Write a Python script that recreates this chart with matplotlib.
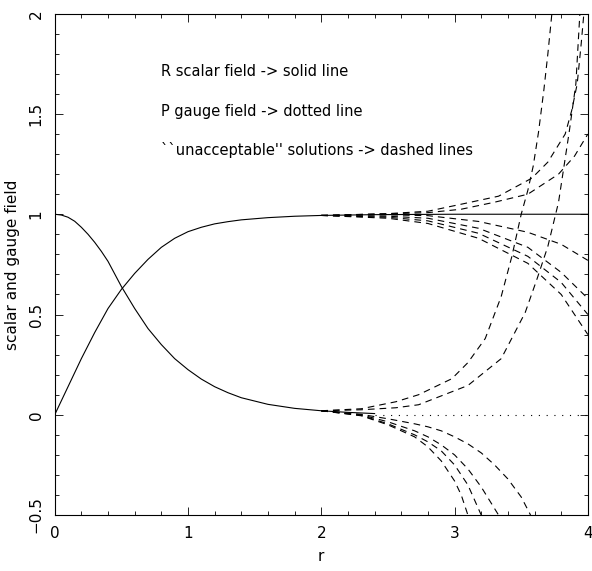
# scalar field R and gauge field P against r, with the diverging "unacceptable" shots
import numpy as np
import matplotlib
matplotlib.use('Agg')
from matplotlib import pyplot as plt
from matplotlib.ticker import MultipleLocator, FuncFormatter

# solid profiles
r_R = [0, 0.1, 0.2, 0.3, 0.4, 0.5, 0.6, 0.7, 0.8, 0.9, 1.0, 1.1, 1.2, 1.3, 1.4, 1.6, 1.8, 2.0, 2.4, 3.0, 4.0]
R = [0, 0.14, 0.28, 0.41, 0.53, 0.625, 0.705, 0.775, 0.835, 0.88, 0.913, 0.935, 0.952, 0.963, 0.972, 0.983, 0.99, 0.994, 0.998, 1.0, 1.0]

r_P = [0, 0.05, 0.1, 0.15, 0.2, 0.25, 0.3, 0.35, 0.4, 0.5, 0.6, 0.7, 0.8, 0.9, 1.0, 1.1, 1.2, 1.3, 1.4, 1.6, 1.8, 2.0, 2.2, 2.4]
P = [1.0, 0.996, 0.985, 0.965, 0.935, 0.9, 0.86, 0.815, 0.765, 0.64, 0.53, 0.43, 0.35, 0.28, 0.225, 0.178, 0.14, 0.11, 0.085, 0.052, 0.032, 0.02, 0.012, 0.006]

# dotted continuation of P
r_Pdot = [2.4, 4.0]
P_dot = [0, 0]

# dashed branches leaving R ~ 1
r_A = [2.0, 2.5, 2.8, 3.05, 3.33, 3.58, 3.7, 3.83, 3.88, 3.92, 3.95, 3.97]
R_A = [0.994, 1.003, 1.015, 1.05, 1.09, 1.18, 1.26, 1.40, 1.52, 1.65, 1.85, 2.0]
r_B = [2.0, 2.5, 2.8, 3.05, 3.3, 3.55, 3.78, 3.9, 4.0]
R_B = [0.994, 1.002, 1.008, 1.025, 1.06, 1.10, 1.20, 1.29, 1.40]
r_L = [2.0, 2.5, 2.8, 3.18, 3.55, 3.8, 4.0]
R_L1 = [0.994, 0.997, 0.993, 0.964, 0.91, 0.85, 0.77]
R_L2 = [0.994, 0.99, 0.98, 0.93, 0.835, 0.71, 0.58]
R_L3 = [0.994, 0.985, 0.967, 0.905, 0.79, 0.66, 0.50]
R_L4 = [0.994, 0.98, 0.954, 0.88, 0.755, 0.60, 0.40]

# dashed branches leaving P ~ 0
r_U1 = [2.0, 2.3, 2.56, 2.73, 2.98, 3.1, 3.23, 3.35, 3.43, 3.5, 3.55, 3.59, 3.63, 3.67, 3.7, 3.73]
P_U1 = [0.02, 0.03, 0.065, 0.1, 0.18, 0.26, 0.38, 0.59, 0.79, 1.0, 1.12, 1.24, 1.41, 1.62, 1.8, 2.0]
r_U2 = [2.0, 2.3, 2.56, 2.73, 3.1, 3.35, 3.53, 3.62, 3.7, 3.78, 3.86, 3.91, 3.94]
P_U2 = [0.02, 0.025, 0.035, 0.05, 0.146, 0.28, 0.51, 0.68, 0.84, 1.06, 1.41, 1.65, 2.0]
r_D1 = [2.0, 2.3, 2.5, 2.7, 2.8, 2.9, 3.0, 3.05, 3.1]
P_D1 = [0.02, -0.005, -0.05, -0.11, -0.16, -0.23, -0.33, -0.40, -0.5]
r_D2 = [2.0, 2.3, 2.5, 2.7, 2.8, 2.9, 3.0, 3.1, 3.2]
P_D2 = [0.02, -0.003, -0.045, -0.1, -0.135, -0.18, -0.25, -0.35, -0.5]
r_D3 = [2.0, 2.3, 2.5, 2.7, 2.8, 2.9, 3.0, 3.1, 3.2, 3.33]
P_D3 = [0.02, 0.0, -0.035, -0.08, -0.11, -0.15, -0.2, -0.27, -0.36, -0.5]
r_D4 = [2.0, 2.3, 2.5, 2.7, 2.8, 2.9, 3.0, 3.1, 3.2, 3.3, 3.4, 3.5, 3.57]
P_D4 = [0.02, 0.002, -0.02, -0.045, -0.06, -0.08, -0.11, -0.145, -0.19, -0.25, -0.32, -0.41, -0.5]

notes = ['R scalar field -> solid line',
         'P gauge field -> dotted line',
         "``unacceptable'' solutions -> dashed lines"]
notes_x = 0.80
notes_y = [1.71, 1.51, 1.32]

fig = plt.figure(figsize=(5.92, 5.71), dpi=100)
ax = fig.add_axes([0.0924, 0.098, 0.9006, 0.878])

lw = 0.8
dash = (6, 4.5)
ax.plot(r_R, R, color='k', lw=lw)
ax.plot(r_P, P, color='k', lw=lw)
ax.plot(r_Pdot, P_dot, color='k', lw=0.8, linestyle=(0, (1, 6)))

branches = [(r_A, R_A), (r_B, R_B), (r_L, R_L1), (r_L, R_L2), (r_L, R_L3), (r_L, R_L4),
            (r_U1, P_U1), (r_U2, P_U2), (r_D1, P_D1), (r_D2, P_D2), (r_D3, P_D3), (r_D4, P_D4)]
for x, y in branches:
    ax.plot(x, y, color='k', lw=lw, dashes=dash)

for t, y in zip(notes, notes_y):
    ax.text(notes_x, y, t, fontsize=10.5, va='center', ha='left')

ax.set_xlim(0, 4)
ax.set_ylim(-0.5, 2)
ax.xaxis.set_major_locator(MultipleLocator(1))
ax.xaxis.set_minor_locator(MultipleLocator(0.2))
ax.yaxis.set_major_locator(MultipleLocator(0.5))
ax.yaxis.set_minor_locator(MultipleLocator(0.1))
fmt = FuncFormatter(lambda v, p: f'{v:g}'.replace('-', '\u2212'))
ax.xaxis.set_major_formatter(fmt)
ax.yaxis.set_major_formatter(fmt)

ax.tick_params(which='both', direction='in', top=True, right=True, width=0.6, labelsize=11)
ax.tick_params(which='major', length=6)
ax.tick_params(which='minor', length=3)
ax.tick_params(axis='x', pad=8)
ax.tick_params(axis='y', labelrotation=90, pad=8)
for lab in ax.get_yticklabels():
    lab.set_va('center')
for s in ax.spines.values():
    s.set_linewidth(0.8)

ax.set_xlabel('r', fontsize=11, labelpad=6)
ax.set_ylabel('scalar and gauge field', fontsize=11, labelpad=6)

fig.savefig('out.png', dpi=100)
